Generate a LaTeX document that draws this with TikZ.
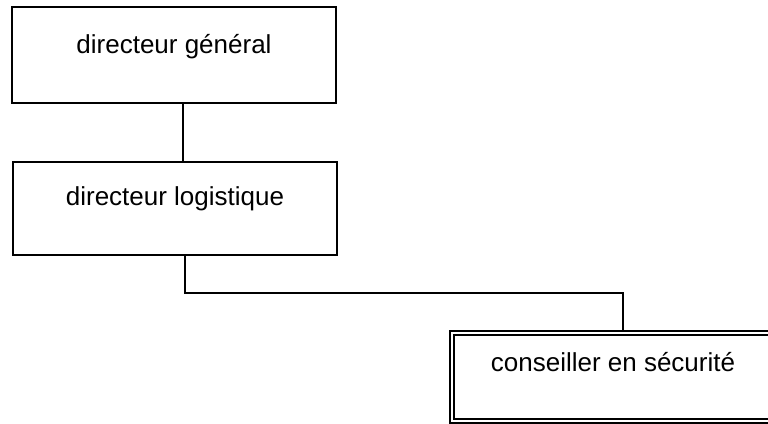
\documentclass[tikz,border=0pt]{standalone}
\usepackage{fontspec}
\setmainfont{Liberation Sans}
\begin{document}
\begin{tikzpicture}[x=1pt,y=-1pt,
  box/.style={draw, line width=1.6pt, inner sep=0pt, minimum width=324pt,
    font=\fontsize{26}{30}\selectfont},
  dbox/.style={box, double, double distance=2pt, line width=1.8pt},
  conn/.style={line width=1.6pt}]
\useasboundingbox (0,0) rectangle (768,423);
\clip (0,0) rectangle (768,423);
\node[box, text height=46pt, text depth=50pt] (b1) at (174,55) {directeur général};
\node[box, text height=43pt, text depth=50pt] (b2) at (175,208.5) {directeur logistique};
\node[dbox, minimum width=322pt, text height=38pt, text depth=50pt] (b3) at (613,377) {conseiller en sécurité};
\coordinate (p) at ([xshift=10pt]b2.south);
\coordinate (q) at ([xshift=10pt]b3.north);
\draw[conn] ([xshift=9pt]b1.south) -- ([xshift=8pt]b2.north);
\draw[conn] (p) -- (p |- 0,293) -| (q);
\end{tikzpicture}
\end{document}
